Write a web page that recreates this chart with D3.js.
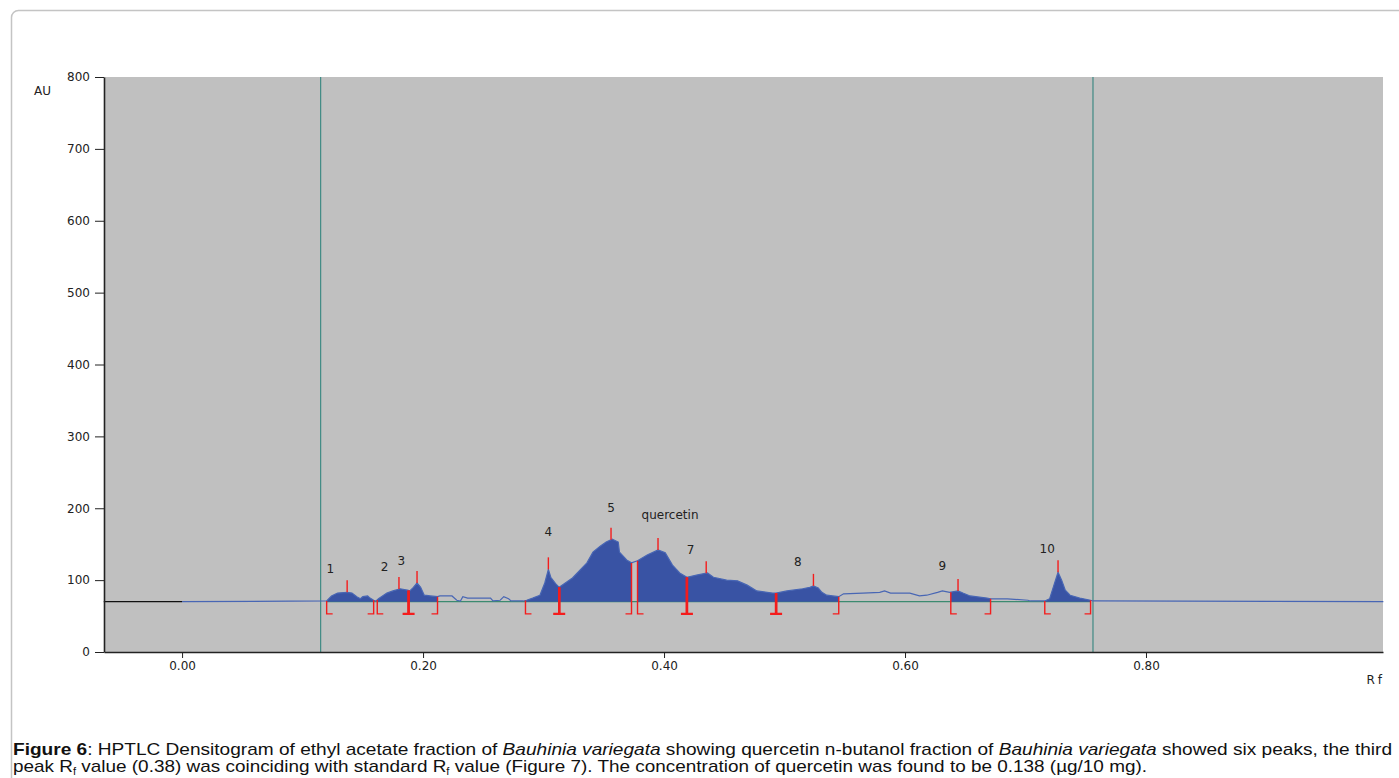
<!DOCTYPE html>
<html>
<head>
<meta charset="utf-8">
<script src="https://cdn.jsdelivr.net/npm/d3@7"></script>
<style>
  body { margin: 0; background: #fff; }
  svg { display: block; }
  .axis .tick text { font-family: "DejaVu Sans", Verdana, sans-serif; font-size: 12px; fill: #222; }
  .axis path, .axis line { stroke: #222; }
  .caption { font-family: "Liberation Sans", Arial, sans-serif; font-size: 17px; fill: #111; }
</style>
</head>
<body>
<div id="chart"></div>
<script>
// densitogram trace (Rf, AU)
const rfValues = [0.000, 0.120, 0.124, 0.129, 0.137, 0.141, 0.145, 0.148, 0.150, 0.154, 0.156, 0.159, 0.161,
  0.163, 0.170, 0.175, 0.181, 0.187, 0.189, 0.192, 0.195, 0.198, 0.201, 0.206, 0.212,
  0.214, 0.224, 0.228, 0.231, 0.233, 0.237, 0.256, 0.258, 0.264, 0.267, 0.271, 0.273, 0.283,
  0.286, 0.291, 0.297, 0.301, 0.304, 0.306, 0.310, 0.313, 0.324, 0.336, 0.341, 0.347, 0.352, 0.357,
  0.362, 0.363, 0.369, 0.373, 0.378, 0.386, 0.395, 0.401, 0.407, 0.413, 0.419, 0.427, 0.436,
  0.441, 0.452, 0.461, 0.469, 0.477, 0.490, 0.493, 0.502, 0.515, 0.521, 0.524, 0.528, 0.531,
  0.535, 0.545, 0.549, 0.565, 0.579, 0.583, 0.588, 0.604, 0.612, 0.618, 0.627, 0.631, 0.637,
  0.644, 0.648, 0.654, 0.668, 0.671, 0.685, 0.702, 0.704, 0.716, 0.720, 0.723, 0.727, 0.730,
  0.733, 0.737, 0.745, 0.754, 0.756, 0.997];
const auValues = [70, 71, 78, 82, 83, 82, 77, 74, 77, 78, 75, 72, 71,
  74, 82, 85, 88, 86, 85, 90, 96, 90, 79, 78, 77,
  78, 78, 72, 71, 77, 75, 75, 71, 72, 77, 74, 71, 71,
  72, 75, 79, 96, 115, 104, 95, 90, 103, 124, 139, 147, 153, 157,
  153, 139, 128, 124, 127, 135, 142, 138, 121, 110, 104, 107, 110,
  104, 100, 99, 93, 85, 82, 82, 85, 88, 90, 92, 89, 83,
  79, 77, 81, 82, 83, 85, 82, 82, 78, 79, 83, 85, 83,
  85, 82, 78, 75, 74, 74, 72, 71, 71, 74, 90, 111, 100,
  86, 79, 75, 72, 71, 70];

// scan before the origin (drawn in black)
const preScanRf = [-0.065, 0.000];
const baselineAu = 70;

// integrated peaks
const peakNames = ["1", "2", "3", "4", "5", "quercetin", "7", "8", "9", "10"];
const peakStart = [0.120, 0.162, 0.188, 0.285, 0.313, 0.378, 0.419, 0.493, 0.638, 0.716];
const peakApex  = [0.137, 0.180, 0.195, 0.304, 0.356, 0.395, 0.435, 0.524, 0.644, 0.727];
const peakEnd   = [0.159, 0.188, 0.212, 0.313, 0.373, 0.419, 0.493, 0.545, 0.671, 0.754];
const labelRf   = [0.123, 0.168, 0.182, 0.304, 0.356, 0.405, 0.422, 0.511, 0.631, 0.718];
const labelAu   = [115, 118, 127, 167, 200, 190, 142, 125, 119, 143];

// application / front limits
const trackLimits = [0.115, 0.756];

const yTicks = [0, 100, 200, 300, 400, 500, 600, 700, 800];
const xTicks = [0.00, 0.20, 0.40, 0.60, 0.80];

const W = 1399, H = 778;
const plot = { left: 104, right: 1383, top: 77, bottom: 652 };

const svg = d3.select("#chart").append("svg")
  .attr("width", W).attr("height", H);

// page frame
svg.append("rect")
  .attr("x", 11.5).attr("y", 10.5)
  .attr("width", 1420).attr("height", 820)
  .attr("rx", 7)
  .attr("fill", "none").attr("stroke", "#c4c4c4").attr("stroke-width", 1.5);

const x = d3.scaleLinear().domain([-0.0648, 0.9967]).range([plot.left, plot.right]);
const y = d3.scaleLinear().domain([0, 800]).range([plot.bottom, plot.top]);

svg.append("rect")
  .attr("x", plot.left).attr("y", plot.top)
  .attr("width", plot.right - plot.left).attr("height", plot.bottom - plot.top)
  .attr("fill", "#c0c0c0");

const profile = rfValues.map((r, i) => ({ rf: r, au: auValues[i] }));
const bisect = d3.bisector(d => d.rf).left;
function auAt(rf) {
  const i = bisect(profile, rf);
  if (i <= 0) return profile[0].au;
  if (i >= profile.length) return profile[profile.length - 1].au;
  const a = profile[i - 1], b = profile[i];
  const t = (rf - a.rf) / (b.rf - a.rf);
  return a.au + t * (b.au - a.au);
}

// track limit lines
svg.append("g").selectAll("line")
  .data(trackLimits)
  .join("line")
  .attr("x1", d => x(d)).attr("x2", d => x(d))
  .attr("y1", plot.top).attr("y2", plot.bottom)
  .attr("stroke", "#3f8a84").attr("stroke-width", 1.2);

// baseline under the peaks
svg.append("line")
  .attr("x1", x(peakStart[0])).attr("x2", x(peakEnd[peakEnd.length - 1]))
  .attr("y1", y(baselineAu)).attr("y2", y(baselineAu))
  .attr("stroke", "#3c8a70").attr("stroke-width", 1.2);

// filled peak areas
const area = d3.area()
  .x(d => x(d.rf))
  .y0(y(baselineAu))
  .y1(d => y(d.au));

const peaks = peakNames.map((n, i) => ({
  name: n, start: peakStart[i], apex: peakApex[i], end: peakEnd[i],
  lrf: labelRf[i], lau: labelAu[i]
}));

svg.append("g").selectAll("path")
  .data(peaks)
  .join("path")
  .attr("d", p => {
    const pts = [{ rf: p.start, au: auAt(p.start) }]
      .concat(profile.filter(d => d.rf > p.start && d.rf < p.end))
      .concat([{ rf: p.end, au: auAt(p.end) }]);
    return area(pts);
  })
  .attr("fill", "#3953a4");

// the scan trace
const line = d3.line().x(d => x(d.rf)).y(d => y(d.au));
svg.append("path")
  .datum(profile)
  .attr("d", line)
  .attr("fill", "none")
  .attr("stroke", "#4866b4")
  .attr("stroke-width", 1.2);

svg.append("path")
  .datum(preScanRf.map(r => ({ rf: r, au: baselineAu })))
  .attr("d", line)
  .attr("fill", "none")
  .attr("stroke", "#111")
  .attr("stroke-width", 1.3);

// peak start / end markers
const red = "#f41c1c";
const markBottom = y(53);
const marks = svg.append("g").attr("fill", "none").attr("stroke", red);
peaks.forEach((p, i) => {
  const sharedStart = i > 0 && peakEnd[i - 1] === p.start;
  const sharedEnd = i < peaks.length - 1 && peakStart[i + 1] === p.end;
  const xs = x(p.start), xe = x(p.end);
  marks.append("path")
    .attr("d", `M${xs},${y(auAt(p.start))}V${markBottom}H${xs + 6}`)
    .attr("stroke-width", sharedStart ? 2.4 : 1.4);
  marks.append("path")
    .attr("d", `M${xe},${y(auAt(p.end))}V${markBottom}H${xe - 6}`)
    .attr("stroke-width", sharedEnd ? 2.4 : 1.4);
  // apex tick
  const ya = y(auAt(p.apex));
  marks.append("path")
    .attr("d", `M${x(p.apex)},${ya}V${ya - 12}`)
    .attr("stroke-width", 1.4);
});

// peak labels
svg.append("g").selectAll("text")
  .data(peaks)
  .join("text")
  .attr("x", p => x(p.lrf))
  .attr("y", p => y(p.lau))
  .attr("text-anchor", "middle")
  .attr("dominant-baseline", "central")
  .attr("font-family", "'DejaVu Sans', Verdana, sans-serif")
  .attr("font-size", 12)
  .attr("fill", "#222")
  .text(p => p.name);

// axes
svg.append("g")
  .attr("class", "axis")
  .attr("transform", `translate(${plot.left},0)`)
  .call(d3.axisLeft(y).tickValues(yTicks).tickSize(9).tickPadding(5).tickSizeOuter(0))
  .call(g => g.select(".domain").attr("stroke-width", 1.6));

svg.append("g")
  .attr("class", "axis")
  .attr("transform", `translate(0,${plot.bottom})`)
  .call(d3.axisBottom(x).tickValues(xTicks).tickFormat(d3.format(".2f")).tickSize(6).tickPadding(3).tickSizeOuter(0))
  .call(g => g.select(".domain").attr("stroke-width", 1.6));

svg.append("text")
  .attr("x", 34).attr("y", 91)
  .attr("dominant-baseline", "central")
  .attr("font-family", "'DejaVu Sans', Verdana, sans-serif")
  .attr("font-size", 12).attr("fill", "#222")
  .text("AU");

svg.append("text")
  .attr("x", 1385).attr("y", 680)
  .attr("text-anchor", "end")
  .attr("dominant-baseline", "central")
  .attr("font-family", "'DejaVu Sans', Verdana, sans-serif")
  .attr("font-size", 12).attr("fill", "#222")
  .attr("letter-spacing", 3)
  .text("Rf");

// caption
const cap1 = svg.append("text").attr("class", "caption")
  .attr("x", 13).attr("y", 755)
  .attr("textLength", 1379).attr("lengthAdjust", "spacingAndGlyphs");
cap1.append("tspan").attr("font-weight", "bold").text("Figure 6");
cap1.append("tspan").text(": HPTLC Densitogram of ethyl acetate fraction of ");
cap1.append("tspan").attr("font-style", "italic").text("Bauhinia variegata");
cap1.append("tspan").text(" showing quercetin n-butanol fraction of ");
cap1.append("tspan").attr("font-style", "italic").text("Bauhinia variegata");
cap1.append("tspan").text(" showed six peaks, the third");

const cap2 = svg.append("text").attr("class", "caption")
  .attr("x", 13).attr("y", 772)
  .attr("textLength", 1134).attr("lengthAdjust", "spacingAndGlyphs");
cap2.append("tspan").text("peak R");
cap2.append("tspan").attr("font-size", 10).attr("dy", 3).text("f");
cap2.append("tspan").attr("dy", -3).text(" value (0.38) was coinciding with standard R");
cap2.append("tspan").attr("font-size", 10).attr("dy", 3).text("f");
cap2.append("tspan").attr("dy", -3).text(" value (Figure 7). The concentration of quercetin was found to be 0.138 (µg/10 mg).");
</script>
</body>
</html>
